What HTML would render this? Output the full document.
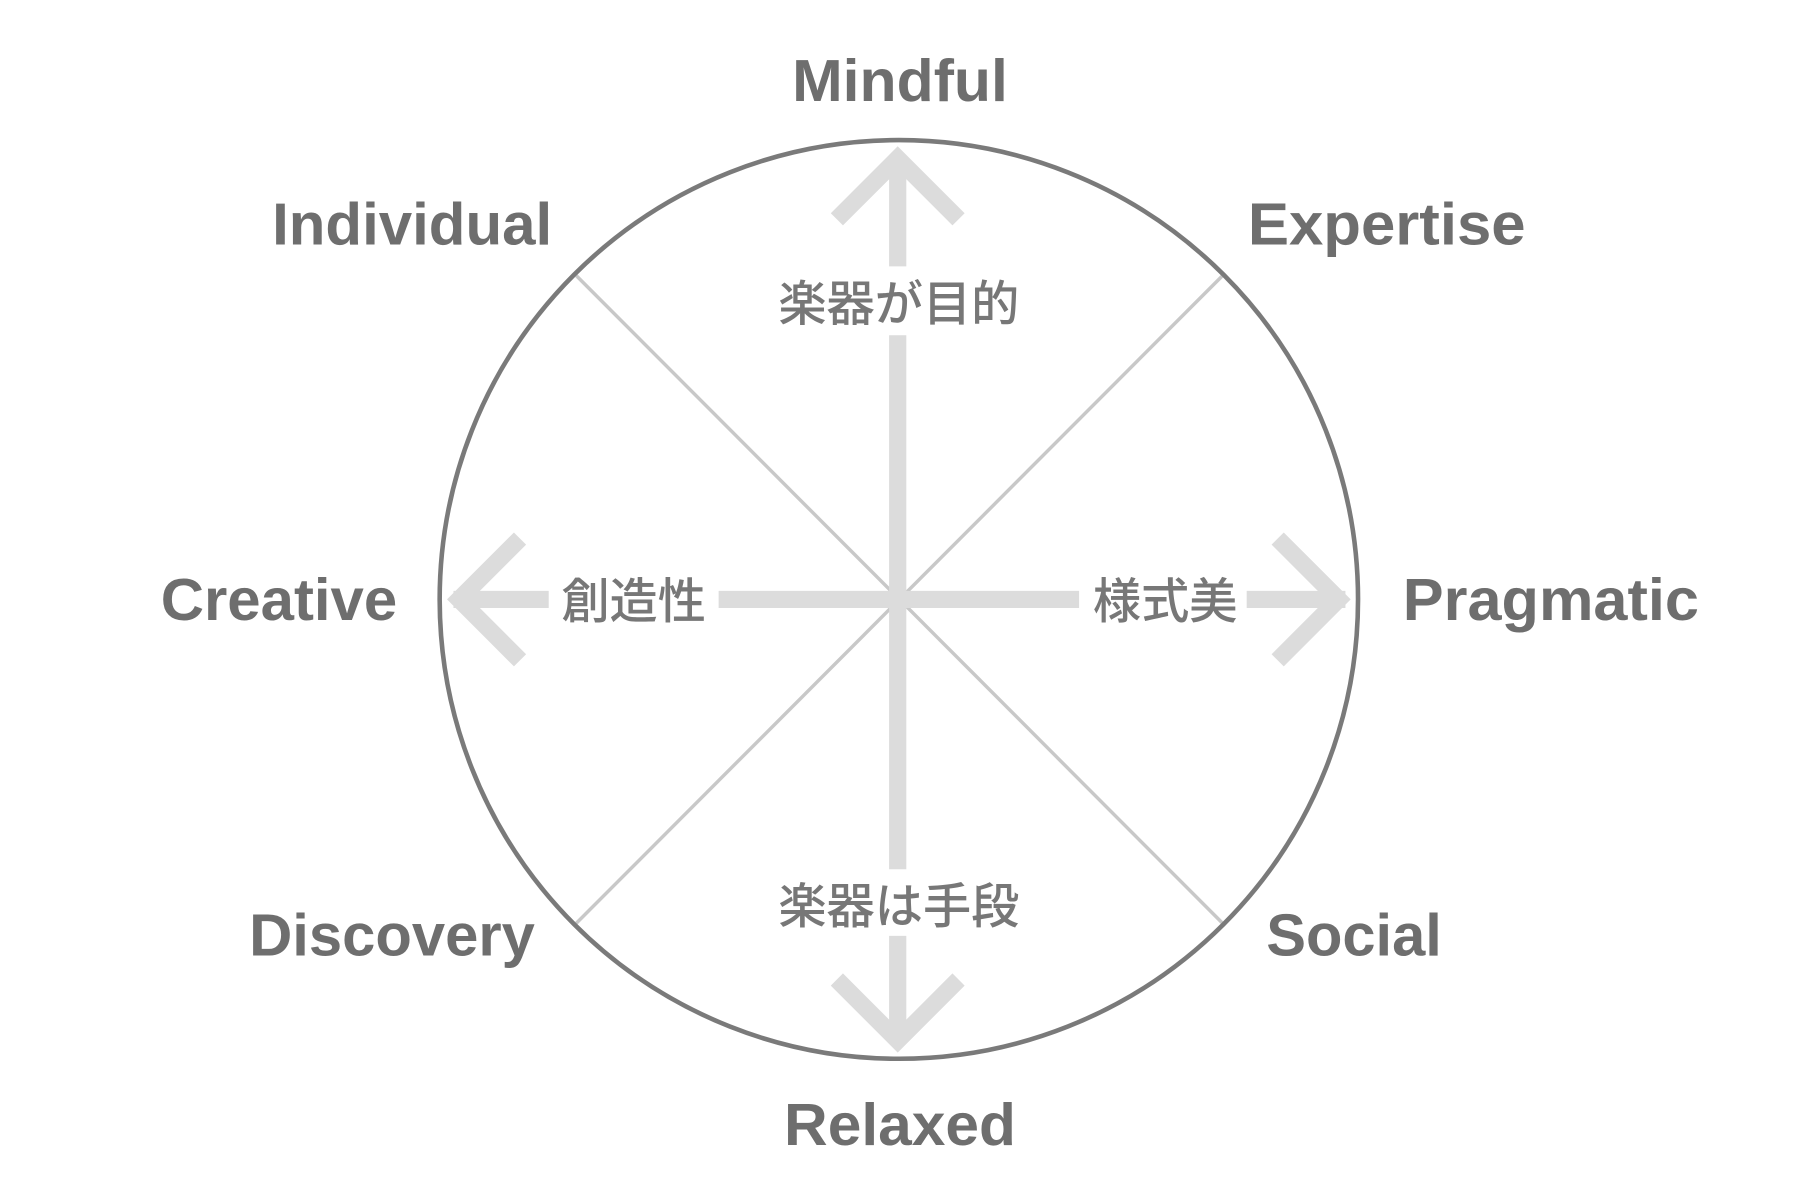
<!DOCTYPE html>
<html><head><meta charset="utf-8"><style>
html,body{margin:0;padding:0;background:#fff;}
svg{display:block;}
.en{font-family:"Liberation Sans",sans-serif;font-weight:bold;font-size:52px;fill:#6e6e6e;}
.jp{font-family:"Liberation Sans","Noto Sans CJK JP",sans-serif;font-size:42px;font-weight:500;fill:#777;}
</style></head><body>
<svg width="1800" height="1200" viewBox="0 0 1568 1045" preserveAspectRatio="none" xmlns="http://www.w3.org/2000/svg">
<rect width="1568" height="1045" fill="#fff"/>
<g stroke="#c8c8c8" stroke-width="3">
<line x1="502" y1="240" x2="1065" y2="804"/>
<line x1="1065" y1="240" x2="502" y2="804"/>
</g>
<g stroke="#dcdcdc" stroke-width="15" fill="none">
<line x1="782" y1="135" x2="782" y2="232"/>
<line x1="782" y1="292" x2="782" y2="757"/>
<line x1="782" y1="815" x2="782" y2="908"/>
<polyline points="729,191 782,138 835,191"/>
<polyline points="729,853 782,906 835,853"/>
<line x1="395" y1="522" x2="478" y2="522"/>
<line x1="626" y1="522" x2="940" y2="522"/>
<line x1="1086" y1="522" x2="1172" y2="522"/>
<polyline points="453,469 400,522 453,575"/>
<polyline points="1113,469 1166,522 1113,575"/>
</g>
<circle cx="783" cy="522" r="400" fill="none" stroke="#7a7a7a" stroke-width="4"/>
<text class="en" x="690" y="88" textLength="188" lengthAdjust="spacingAndGlyphs">Mindful</text>
<text class="en" x="237" y="213" textLength="244" lengthAdjust="spacingAndGlyphs">Individual</text>
<text class="en" x="1087" y="213" textLength="242" lengthAdjust="spacingAndGlyphs">Expertise</text>
<text class="en" x="140" y="540" textLength="206" lengthAdjust="spacingAndGlyphs">Creative</text>
<text class="en" x="1222" y="540" textLength="258" lengthAdjust="spacingAndGlyphs">Pragmatic</text>
<text class="en" x="217" y="832" textLength="249" lengthAdjust="spacingAndGlyphs">Discovery</text>
<text class="en" x="1103" y="832" textLength="153" lengthAdjust="spacingAndGlyphs">Social</text>
<text class="en" x="683" y="997" textLength="202" lengthAdjust="spacingAndGlyphs">Relaxed</text>
<text class="jp" x="783" y="279" text-anchor="middle">楽器が目的</text>
<text class="jp" x="552" y="538" text-anchor="middle">創造性</text>
<text class="jp" x="1015" y="538" text-anchor="middle">様式美</text>
<text class="jp" x="783" y="804" text-anchor="middle">楽器は手段</text>
</svg>
</body></html>
